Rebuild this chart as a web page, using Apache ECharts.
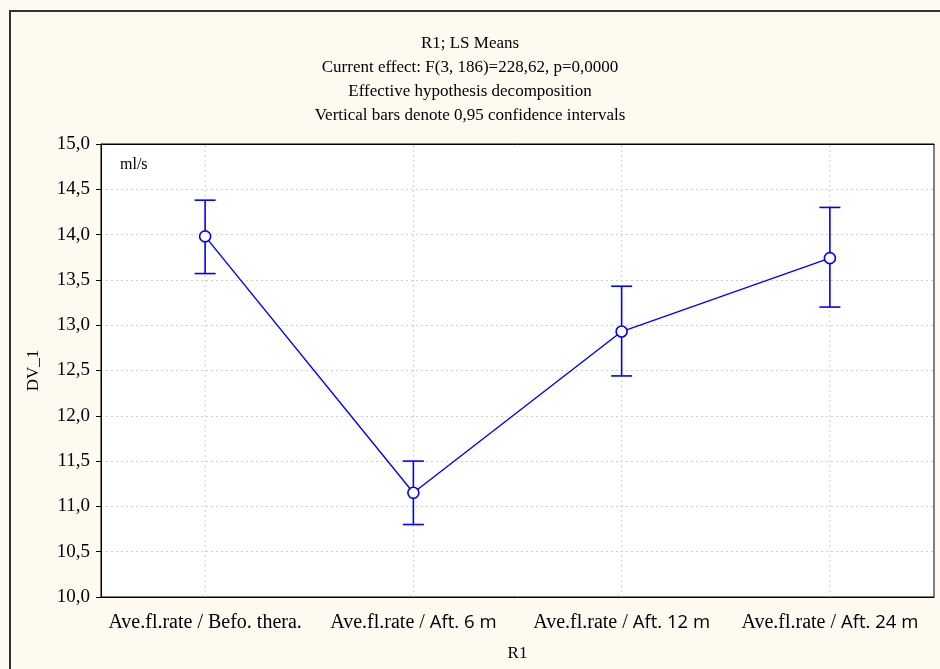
<!DOCTYPE html>
<html>
<head>
<meta charset="utf-8">
<script src="https://cdn.jsdelivr.net/npm/echarts@6/dist/echarts.min.js"></script>
<style>
html,body{margin:0;padding:0;background:#fefaf0;}
#chart{width:940px;height:669px;}
</style>
</head>
<body>
<div id="chart"></div>
<script>
var categoryPrefix = ['Ave.fl.rate / Befo. thera.', 'Ave.fl.rate / ', 'Ave.fl.rate / ', 'Ave.fl.rate / '];
var categorySuffix = ['', 'Aft. 6 m', 'Aft. 12 m', 'Aft. 24 m'];
var categories = ['Befo. thera.', 'Aft. 6 m', 'Aft. 12 m', 'Aft. 24 m'];
var means = [13.98, 11.15, 12.93, 13.74];
var lowerCI = [13.57, 10.80, 12.44, 13.20];
var upperCI = [14.38, 11.50, 13.43, 14.30];
var titleLines = ['R1; LS Means', 'Current effect: F(3, 186)=228,62, p=0,0000', 'Effective hypothesis decomposition', 'Vertical bars denote 0,95 confidence intervals'];

var serif = '"Liberation Serif", "DejaVu Serif", serif';
var sans = '"Open Sans", "Liberation Sans", sans-serif';
var blue = '#0000ff';
var gridColor = '#cfcfcf';

var chart = echarts.init(document.getElementById('chart'));
var errData = categories.map(function (c, i) { return [i, lowerCI[i], upperCI[i]]; });
var vData = categories.map(function (c, i) { return [i]; });

chart.setOption({
  backgroundColor: '#fefaf0',
  animation: false,
  title: titleLines.map(function (t, i) {
    return {
      text: t, left: 'center', top: 30 + i * 24,
      textStyle: {fontFamily: serif, fontSize: 17, fontWeight: 'normal', color: '#000'}
    };
  }),
  graphic: [
    {type: 'line', shape: {x1: 10, y1: 11, x2: 940, y2: 11}, style: {stroke: '#333', lineWidth: 2}},
    {type: 'line', shape: {x1: 10, y1: 10, x2: 10, y2: 669}, style: {stroke: '#333', lineWidth: 2}},
    {type: 'text', left: 120, top: 157, style: {text: 'ml/s', font: '16px ' + serif, fill: '#000'}}
  ],
  grid: {left: 101, right: 6, top: 144, bottom: 72, show: true, backgroundColor: '#fff', borderColor: '#000', borderWidth: 1},
  xAxis: [{
    type: 'category', data: categories, boundaryGap: true,
    name: 'R1', nameLocation: 'middle', nameGap: 48,
    nameTextStyle: {fontFamily: serif, fontSize: 17, color: '#000'},
    axisLine: {lineStyle: {color: '#000', width: 1}},
    axisTick: {alignWithLabel: true, inside: true, length: 5, lineStyle: {color: '#000'}},
    axisLabel: {
      margin: 16,
      formatter: function (v, i) {
        return '{s|' + categoryPrefix[i] + '}' + (categorySuffix[i] ? '{t|' + categorySuffix[i] + '}' : '');
      },
      rich: {
        s: {fontFamily: serif, fontSize: 20, color: '#000'},
        t: {fontFamily: sans, fontSize: 18.5, color: '#000'}
      }
    },
    splitLine: {show: false}
  }, {
    type: 'category', data: categories, boundaryGap: true, position: 'top',
    axisLine: {lineStyle: {color: '#000'}},
    axisTick: {alignWithLabel: true, inside: true, length: 5, lineStyle: {color: '#000'}},
    axisLabel: {show: false}
  }],
  yAxis: {
    type: 'value', min: 10, max: 15, interval: 0.5,
    name: 'DV_1', nameLocation: 'middle', nameGap: 59, nameRotate: 90,
    nameTextStyle: {fontFamily: serif, fontSize: 17, color: '#000'},
    axisLine: {show: true, lineStyle: {color: '#000'}},
    axisTick: {show: true, length: 5, lineStyle: {color: '#000'}},
    axisLabel: {
      margin: 11, fontFamily: serif, fontSize: 19, color: '#000',
      formatter: function (v) { return v.toFixed(1).replace('.', ','); }
    },
    splitLine: {show: true, lineStyle: {color: gridColor, type: [2, 3], width: 1}}
  },
  series: [{
    type: 'custom',
    xAxisIndex: 0,
    data: vData,
    z: 1,
    silent: true,
    renderItem: function (params, api) {
      var p = api.coord([api.value(0), 10]);
      var q = api.coord([api.value(0), 15]);
      return {type: 'line', shape: {x1: p[0], y1: p[1], x2: q[0], y2: q[1]},
        style: {stroke: gridColor, lineWidth: 1, lineDash: [2, 3]}};
    }
  }, {
    type: 'custom',
    xAxisIndex: 0,
    data: errData,
    z: 3,
    renderItem: function (params, api) {
      var x = api.coord([api.value(0), api.value(1)]);
      var top = api.coord([api.value(0), api.value(2)]);
      var hw = 10.5;
      var st = {stroke: blue, lineWidth: 1.6};
      return {
        type: 'group',
        children: [
          {type: 'line', shape: {x1: x[0], y1: x[1], x2: top[0], y2: top[1]}, style: st},
          {type: 'line', shape: {x1: x[0] - hw, y1: x[1], x2: x[0] + hw, y2: x[1]}, style: st},
          {type: 'line', shape: {x1: top[0] - hw, y1: top[1], x2: top[0] + hw, y2: top[1]}, style: st}
        ]
      };
    }
  }, {
    type: 'line',
    xAxisIndex: 0,
    data: means,
    z: 4,
    symbol: 'circle', symbolSize: 11,
    itemStyle: {color: '#fff', borderColor: blue, borderWidth: 1.6},
    lineStyle: {color: blue, width: 1.4}
  }]
});
</script>
</body>
</html>
